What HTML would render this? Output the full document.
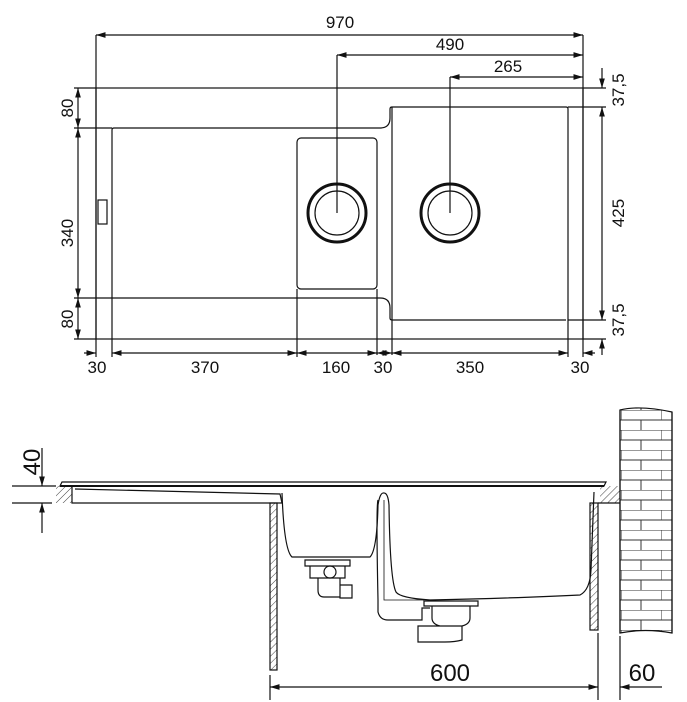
<!DOCTYPE html>
<html><head><style>body{margin:0;background:#fff}svg{display:block}</style></head><body>
<svg width="687" height="702" viewBox="0 0 687 702" xmlns="http://www.w3.org/2000/svg" font-family="Liberation Sans, sans-serif" font-size="17" fill="none" stroke="#111" stroke-width="1.2">
<defs>
<marker id="a" viewBox="0 0 10 10" refX="10" refY="5" markerWidth="8" markerHeight="8" orient="auto-start-reverse"><path d="M0,2L10,5L0,8z" fill="#111" stroke="none"/></marker>
<pattern id="h" width="5" height="5" patternUnits="userSpaceOnUse" patternTransform="rotate(45)"><line x1="0" y1="0" x2="0" y2="5" stroke="#111" stroke-width="0.8"/></pattern>
<pattern id="br" x="621" y="410" width="40" height="20" patternUnits="userSpaceOnUse"><path d="M0,0H40M0,10H40M0,0V10M20,10V20" stroke="#333" stroke-width="1"/></pattern>
</defs>
<!-- TOP VIEW -->
<rect x="96" y="88" width="487" height="251"/>
<path d="M112,339V130q0,-2 2,-2H380q10,0 10,-10V109q0,-2 2,-2H566q2,0 2,2V339"/>
<path d="M112,298H380q10,0 10,10V318q0,2 2,2H566"/>
<line x1="392" y1="107" x2="392" y2="355"/>
<rect x="297" y="138" width="80" height="151" rx="4"/>
<line x1="377" y1="289" x2="377" y2="355"/>
<rect x="98" y="200" width="9" height="24"/>
<circle cx="337" cy="213" r="29" stroke-width="3"/><circle cx="337" cy="213" r="22"/>
<circle cx="450" cy="213" r="29" stroke-width="3"/><circle cx="450" cy="213" r="22"/>
<!-- top dims -->
<line x1="96" y1="35" x2="583" y2="35" marker-start="url(#a)" marker-end="url(#a)"/>
<line x1="96" y1="35" x2="96" y2="357"/>
<line x1="583" y1="35" x2="583" y2="357"/>
<line x1="337" y1="55" x2="583" y2="55" marker-start="url(#a)" marker-end="url(#a)"/>
<line x1="337" y1="55" x2="337" y2="213"/>
<line x1="450" y1="77" x2="583" y2="77" marker-start="url(#a)" marker-end="url(#a)"/>
<line x1="450" y1="77" x2="450" y2="213"/>
<g fill="#111" stroke="none" text-anchor="middle">
<text x="340" y="28">970</text><text x="450" y="50">490</text><text x="508" y="72">265</text>
<text x="97" y="373">30</text><text x="205" y="373">370</text><text x="336" y="373">160</text><text x="383" y="373">30</text><text x="470" y="373">350</text><text x="580" y="373">30</text>
<text transform="translate(73,108) rotate(-90)">80</text>
<text transform="translate(73,233) rotate(-90)">340</text>
<text transform="translate(73,319) rotate(-90)">80</text>
<text transform="translate(624,90) rotate(-90)">37,5</text>
<text transform="translate(624,213) rotate(-90)">425</text>
<text transform="translate(624,320) rotate(-90)">37,5</text>
</g>
<!-- left dims -->
<path d="M74,88H96M74,128H112M74,298H112M74,339H96"/>
<line x1="78" y1="88" x2="78" y2="128" marker-start="url(#a)" marker-end="url(#a)"/>
<line x1="78" y1="128" x2="78" y2="298" marker-start="url(#a)" marker-end="url(#a)"/>
<line x1="78" y1="298" x2="78" y2="339" marker-start="url(#a)" marker-end="url(#a)"/>
<!-- right dims -->
<path d="M583,88H606M568,107H606M568,320H606M583,339H606"/>
<line x1="602" y1="68" x2="602" y2="88" marker-end="url(#a)"/>
<line x1="602" y1="107" x2="602" y2="320" marker-start="url(#a)" marker-end="url(#a)"/>
<line x1="602" y1="339" x2="602" y2="355" marker-start="url(#a)"/>
<!-- bottom dims -->
<line x1="84" y1="353" x2="96" y2="353" marker-end="url(#a)"/>
<line x1="112" y1="353" x2="297" y2="353" marker-start="url(#a)" marker-end="url(#a)"/>
<line x1="297" y1="353" x2="377" y2="353" marker-start="url(#a)" marker-end="url(#a)"/>
<line x1="377" y1="353" x2="392" y2="353" marker-start="url(#a)" marker-end="url(#a)"/>
<line x1="392" y1="353" x2="568" y2="353" marker-start="url(#a)" marker-end="url(#a)"/>
<line x1="583" y1="353" x2="595" y2="353" marker-start="url(#a)"/>
<path d="M112,339V357M297,289V357M568,339V357"/>
<!-- SIDE VIEW -->
<path d="M60,486L62,482H606L604,486Z" />
<line x1="60" y1="486" x2="604" y2="486" stroke-width="2"/>
<path d="M72,486V503H282L280,494L75,489"/>
<rect x="56" y="486" width="16" height="17" fill="url(#h)" stroke="none"/>
<rect x="270" y="503" width="7" height="167" fill="url(#h)"/>
<path d="M282,493Q284,550 292,557H370Q377,550 378,505Q380,492 384,493Q388,493 389,505Q390,580 396,592Q400,598 430,600Q520,598 580,595Q590,590 591,570L594,492"/>
<path d="M305,560H350V566H305Z M310,566H345V578H310Z M318,578H340V597H324Q318,597 318,590Z M340,585H352V598H340Z"/>
<circle cx="330" cy="572" r="6"/>
<path d="M424,601H478V606H424Z M432,606H470V618Q470,624 462,626H440Q432,624 432,618Z M418,626H462V640Q455,642 445,642H418Z"/>
<path d="M378,500Q376,505 378,600V612Q380,620 388,620H422V608H430"/>
<path d="M384,500V600H424" stroke-width="0.8"/>
<rect x="590" y="503" width="8" height="127" fill="url(#h)"/>
<rect x="600" y="486" width="20" height="17" fill="url(#h)" stroke="none"/>
<path d="M598,503H620"/>
<path d="M620,410Q640,405 672,412V633Q645,628 620,633Z" fill="url(#br)"/>
<path d="M620,410V633M672,412V633"/>
<!-- side dims -->
<path d="M12,486H56M12,503H52"/>
<line x1="42" y1="448" x2="42" y2="486" marker-end="url(#a)"/>
<line x1="42" y1="533" x2="42" y2="503" marker-end="url(#a)"/>
<path d="M270,675V700M598,633V700M620,636V700"/>
<line x1="270" y1="687" x2="598" y2="687" marker-start="url(#a)" marker-end="url(#a)"/>
<line x1="620" y1="687" x2="662" y2="687" marker-start="url(#a)"/>
<g fill="#111" stroke="none" font-size="24" text-anchor="middle">
<text x="450" y="681">600</text><text x="642" y="681">60</text>
<text transform="translate(40,462) rotate(-90)">40</text>
</g>
</svg>
</body></html>
